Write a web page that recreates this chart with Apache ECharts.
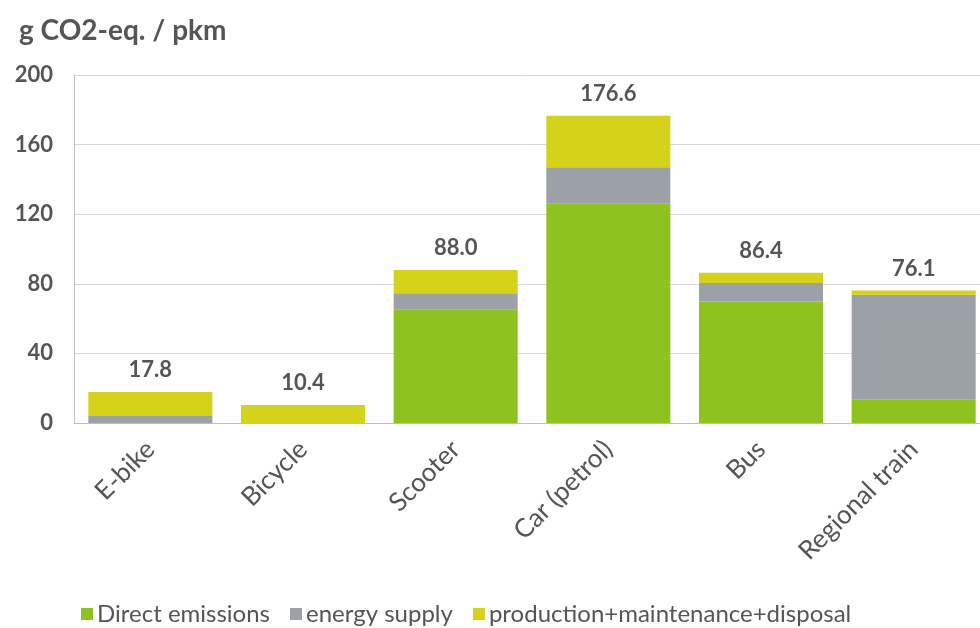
<!DOCTYPE html>
<html><head><meta charset="utf-8">
<script src="https://cdn.jsdelivr.net/npm/echarts@6/dist/echarts.min.js"></script>
<style>html,body{margin:0;padding:0;background:#fff}#c{width:980px;height:628px}</style>
</head><body><div id="c"></div>
<script>
const categories = ['E-bike', 'Bicycle', 'Scooter', 'Car (petrol)', 'Bus', 'Regional train'];
const directEmissions = [0, 0, 65.4, 126.0, 69.8, 13.6];
const energySupply = [4.0, 0, 9.2, 21.0, 10.6, 60.1];
const production = [13.8, 10.4, 13.4, 29.6, 6.0, 2.4];
const totals = ['17.8', '10.4', '88.0', '176.6', '86.4', '76.1'];
const yTicks = [0, 40, 80, 120, 160, 200];

const FONT = 'Lato';
const TXT = '#555555';
const chart = echarts.init(document.getElementById('c'));
chart.setOption({
  animation: false,
  textStyle: { fontFamily: FONT },
  title: { text: 'g CO2-eq. / pkm', left: 14, top: 12,
    textStyle: { fontFamily: FONT, fontSize: 28, fontWeight: 'bold', color: TXT } },
  legend: { top: 597, left: 76, icon: 'rect', itemWidth: 12, itemHeight: 12, itemGap: 20,
    textStyle: { fontFamily: FONT, fontSize: 24, color: TXT, padding: [0,0,0,-1] },
    data: ['Direct emissions', 'energy supply', 'production+maintenance+disposal'] },
  grid: { left: 74, width: 916, top: 75, height: 348, containLabel: false, outerBoundsMode: 'none' },
  xAxis: { type: 'category', data: categories,
    axisLine: { lineStyle: { color: '#bfbfbf' } }, axisTick: { show: false },
    axisLabel: { rotate: 45, fontSize: 26, fontFamily: FONT, color: TXT, margin: 22, interval: 0 } },
  yAxis: { type: 'value', min: yTicks[0], max: yTicks[yTicks.length-1], interval: 40,
    axisLine: { show: true, lineStyle: { color: '#bfbfbf' } },
    splitLine: { lineStyle: { color: '#d9d9d9' } },
    axisLabel: { fontSize: 22, fontWeight: 'bold', fontFamily: FONT, color: TXT, margin: 21 } },
  series: [
    { name: 'Direct emissions', type: 'bar', stack: 't', barWidth: 124, data: directEmissions,
      itemStyle: { color: '#8dc21f' } },
    { name: 'energy supply', type: 'bar', stack: 't', data: energySupply,
      itemStyle: { color: '#9ba1a6' } },
    { name: 'production+maintenance+disposal', type: 'bar', stack: 't', data: production,
      itemStyle: { color: '#d4d21a' },
      label: { show: true, position: 'top', distance: 11, fontSize: 22, fontWeight: 'bold',
        fontFamily: FONT, color: TXT, formatter: p => totals[p.dataIndex] } }
  ]
});
</script></body></html>
